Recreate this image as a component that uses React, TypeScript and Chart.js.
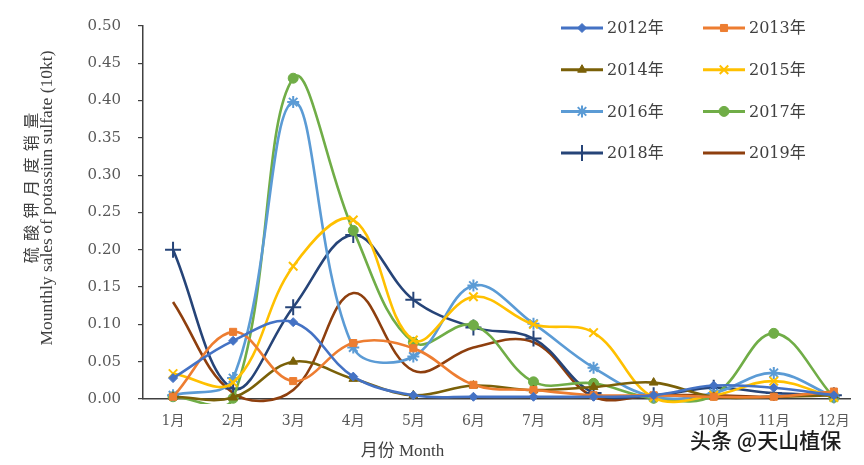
import React, { useEffect, useRef } from 'react';
import { Chart, registerables } from 'chart.js';
import { drawPoint } from 'chart.js/helpers';

Chart.register(...registerables);

const months = ['1月', '2月', '3月', '4月', '5月', '6月', '7月', '8月', '9月', '10月', '11月', '12月'];
const yTickLabels = ['0.00', '0.05', '0.10', '0.15', '0.20', '0.25', '0.30', '0.35', '0.40', '0.45', '0.50'];

const years = ['2012年', '2013年', '2014年', '2015年', '2016年', '2017年', '2018年', '2019年'];
const s2012 = [0.028, 0.078, 0.103, 0.030, 0.005, 0.003, 0.003, 0.003, 0.005, 0.018, 0.015, 0.005];
const s2013 = [0.003, 0.090, 0.024, 0.075, 0.068, 0.019, 0.012, 0.005, 0.005, 0.003, 0.003, 0.010];
const s2014 = [0.003, 0.002, 0.050, 0.027, 0.005, 0.018, 0.012, 0.016, 0.022, 0.003, 0.003, 0.005];
const s2015 = [0.034, 0.022, 0.178, 0.240, 0.079, 0.137, 0.100, 0.089, 0.002, 0.005, 0.024, 0.002];
const s2016 = [0.005, 0.028, 0.398, 0.069, 0.057, 0.152, 0.101, 0.042, 0.003, 0.008, 0.035, 0.003];
const s2017 = [0.003, 0.001, 0.430, 0.226, 0.076, 0.099, 0.023, 0.021, 0.001, 0.005, 0.088, 0.002];
const s2018 = [0.200, 0.014, 0.123, 0.220, 0.133, 0.096, 0.081, 0.008, 0.005, 0.015, 0.008, 0.005];
const s2019 = [0.130, 0.008, 0.012, 0.142, 0.038, 0.069, 0.076, 0.003, 0.005, 0.005, 0.003, 0.010];
const seriesValues = [s2012, s2013, s2014, s2015, s2016, s2017, s2018, s2019];

const colors = ['#4472C4', '#ED7D31', '#7A6008', '#FFC000', '#5B9BD5', '#70AD47', '#264478', '#8E3F0E'];
const markerStyles = ['rectRot', 'rect', 'triangle', 'crossRot', 'star', 'circle', 'cross', 'circle'];
const markerRadii = [4.5, 5, 5, 6, 6, 5, 8, 0];
const markerBorders = [1, 1, 1, 2, 2, 1, 2, 0];

const yTitleCn = '硫酸钾月度销量';
const yTitleEn = 'Mounthly sales of potassiun sulfate (10kt)';
const xTitle = '月份 Month';
const watermark = '头条 @天山植保';

const serif = '"DejaVu Serif", "Noto Sans CJK SC", serif';

const overlayPlugin = {
  id: 'overlay',
  afterDraw(chart: any) {
    const ctx = chart.ctx as CanvasRenderingContext2D;
    const area = chart.chartArea;
    // Legend (2 columns x 4 rows inside plot area)
    chart.data.datasets.forEach((ds: any, i: number) => {
      const col = i % 2;
      const row = Math.floor(i / 2);
      const x0 = 561 + col * 142;
      const y = 28 + row * 41.7;
      ctx.save();
      ctx.strokeStyle = ds.borderColor;
      ctx.lineWidth = 3;
      ctx.beginPath();
      ctx.moveTo(x0, y);
      ctx.lineTo(x0 + 42, y);
      ctx.stroke();
      if (ds.pointRadius > 0) {
        ctx.fillStyle = ds.pointBackgroundColor;
        ctx.strokeStyle = ds.pointBorderColor;
        ctx.lineWidth = ds.pointBorderWidth;
        drawPoint(ctx, { pointStyle: ds.pointStyle, radius: ds.pointRadius, rotation: 0, borderWidth: ds.pointBorderWidth } as any, x0 + 21, y);
      }
      ctx.fillStyle = '#404040';
      ctx.font = '16px ' + serif;
      ctx.textAlign = 'left';
      ctx.textBaseline = 'middle';
      ctx.fillText(ds.label, x0 + 46, y + 1);
      ctx.restore();
    });

    // X axis title
    ctx.save();
    ctx.fillStyle = '#404040';
    ctx.font = '17px "Liberation Serif", "Noto Sans CJK SC", serif';
    ctx.textAlign = 'center';
    ctx.textBaseline = 'middle';
    ctx.fillText(xTitle, area.left + (area.right - area.left) * 0.367, 452);
    ctx.restore();

    // Y axis titles (rotated)
    ctx.save();
    ctx.fillStyle = '#404040';
    ctx.translate(31, 188);
    ctx.rotate(-Math.PI / 2);
    ctx.font = '16px "Noto Sans CJK SC", sans-serif';
    ctx.textAlign = 'center';
    ctx.textBaseline = 'middle';
    const step = 22.4;
    const n = yTitleCn.length;
    for (let k = 0; k < n; k++) {
      ctx.fillText(yTitleCn[k], (k - (n - 1) / 2) * step, 0);
    }
    ctx.restore();

    ctx.save();
    ctx.fillStyle = '#404040';
    ctx.translate(47, 198);
    ctx.rotate(-Math.PI / 2);
    ctx.font = '17.5px "Liberation Serif", serif';
    ctx.textAlign = 'center';
    ctx.textBaseline = 'middle';
    ctx.fillText(yTitleEn, 0, 0);
    ctx.restore();

    // Watermark
    ctx.save();
    ctx.font = '500 21px "Noto Sans CJK SC", sans-serif';
    ctx.textAlign = 'left';
    ctx.textBaseline = 'middle';
    ctx.lineWidth = 3;
    ctx.strokeStyle = 'rgba(255,255,255,0.9)';
    ctx.strokeText(watermark, 690, 440);
    ctx.fillStyle = '#1c1c1c';
    ctx.fillText(watermark, 690, 440);
    ctx.restore();
  },
};

export default function App() {
  const canvasRef = useRef<HTMLCanvasElement | null>(null);

  useEffect(() => {
    document.body.style.margin = '0';
    const canvas = canvasRef.current;
    if (!canvas) return;
    const datasets = seriesValues.map((vals, i) => ({
      label: years[i],
      data: vals.map((v, j) => ({ x: j + 1, y: v })),
      borderColor: colors[i],
      backgroundColor: colors[i],
      borderWidth: 2.6,
      tension: 0.38,
      fill: false,
      pointStyle: markerStyles[i],
      pointRadius: markerRadii[i],
      pointHoverRadius: markerRadii[i],
      pointBackgroundColor: colors[i],
      pointBorderColor: colors[i],
      pointBorderWidth: markerBorders[i],
      clip: { left: 12, right: 12, top: 12, bottom: 5 },
    }));

    const tickFont = { family: serif, size: 15 };
    const chart = new Chart(canvas, {
      type: 'line',
      data: { datasets },
      options: {
        animation: false,
        responsive: false,
        maintainAspectRatio: false,
        layout: { padding: { top: 13, right: 9, left: 0, bottom: 0 } },
        elements: { line: { capBezierPoints: false } },
        plugins: {
          legend: { display: false },
          tooltip: { enabled: false },
          title: { display: false },
        },
        scales: {
          x: {
            type: 'linear',
            min: 0.5,
            max: 12.27,
            afterBuildTicks: (scale: any) => {
              scale.ticks = months.map((_, i) => ({ value: i + 1 }));
            },
            afterFit: (scale: any) => {
              scale.height = 66;
            },
            ticks: {
              autoSkip: false,
              maxRotation: 0,
              padding: 14,
              color: '#595959',
              font: { family: serif, size: 14 },
              callback: (v: any) => months[Math.round(Number(v)) - 1] ?? '',
            },
            grid: { display: false, drawTicks: false },
            border: { display: true, color: '#404040', width: 1.5 },
          },
          y: {
            min: 0,
            max: 0.5,
            afterFit: (scale: any) => {
              scale.width = 143;
            },
            ticks: {
              stepSize: 0.05,
              padding: 17,
              color: '#595959',
              font: tickFont,
              callback: (v: any, i: number) => yTickLabels[i] ?? Number(v).toFixed(2),
            },
            grid: { drawOnChartArea: false, drawTicks: true, tickLength: 5, color: '#404040', lineWidth: 1.2 },
            border: { display: true, color: '#404040', width: 1.5 },
          },
        },
      },
      plugins: [overlayPlugin],
    } as any);
    return () => chart.destroy();
  }, []);

  return (
    <div style={{ position: 'relative', width: 864, height: 465, background: '#fff' }}>
      <canvas ref={canvasRef} width={864} height={465} style={{ display: 'block', width: 864, height: 465 }} />
    </div>
  );
}
